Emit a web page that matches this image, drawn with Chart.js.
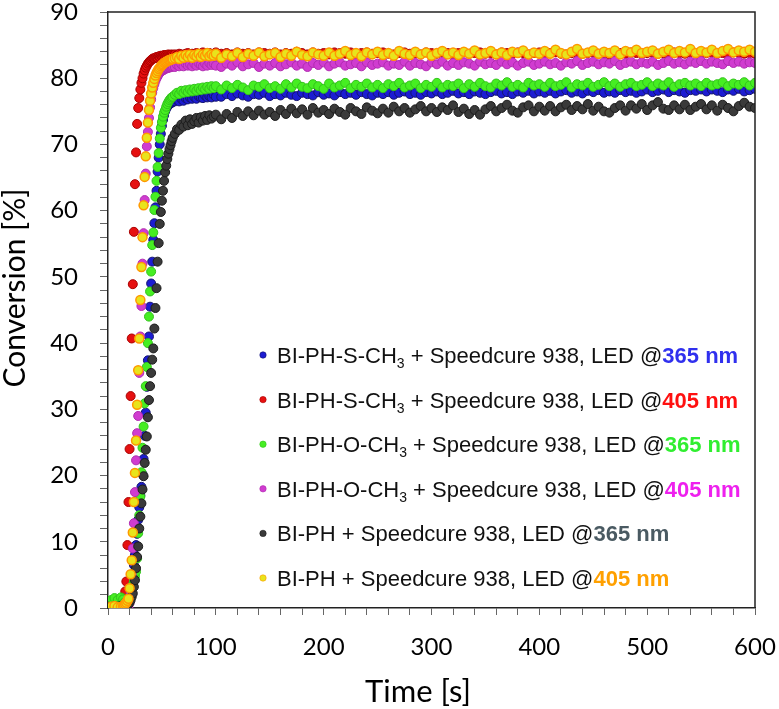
<!DOCTYPE html>
<html>
<head>
<meta charset="utf-8">
<script src="https://cdn.jsdelivr.net/npm/chart.js@4.4.0/dist/chart.umd.min.js"></script>
<style>
    html, body { margin: 0; padding: 0; background: #fff; }
    #wrap { width: 779px; height: 709px; position: relative; }
</style>
</head>
<body>
<div id="wrap"><canvas id="conversionChart"></canvas></div>
<script>
// sampling times [s]
const riseTimes = [0, 3, 6, 9, 12,
    14, 15, 16, 17, 18, 19, 20, 21, 22, 23,
    24, 25, 26, 27, 28, 29, 30, 31, 32, 33,
    34, 35, 36, 37, 38, 39, 40, 41, 42, 43,
    44, 45, 46, 47, 48, 49, 50, 51, 52, 53,
    54, 55, 56, 57, 58, 59, 60,
    62, 64, 66, 68, 70, 72, 74, 76, 78, 80, 82, 84, 86, 88, 90, 92, 94, 96, 98, 100];
const plateauTimes = [105, 110, 115, 120, 125, 130, 135, 140, 145, 150,
    155, 160, 165, 170, 175, 180, 185, 190, 195, 200,
    205, 210, 215, 220, 225, 230, 235, 240, 245, 250,
    255, 260, 265, 270, 275, 280, 285, 290, 295, 300,
    305, 310, 315, 320, 325, 330, 335, 340, 345, 350,
    355, 360, 365, 370, 375, 380, 385, 390, 395, 400,
    405, 410, 415, 420, 425, 430, 435, 440, 445, 450,
    455, 460, 465, 470, 475, 480, 485, 490, 495, 500,
    505, 510, 515, 520, 525, 530, 535, 540, 545, 550,
    555, 560, 565, 570, 575, 580, 585, 590, 595, 600];

// legend text
const compounds = ['BI-PH-S-CH3', 'BI-PH-S-CH3', 'BI-PH-O-CH3', 'BI-PH-O-CH3', 'BI-PH', 'BI-PH'];
const coInitiator = ' + Speedcure 938, LED @';
const wavelengths = ['365 nm', '405 nm', '365 nm', '405 nm', '365 nm', '405 nm'];
const xTitle = 'Time [s]';
const yTitle = 'Conversion [%]';

// conversion [%] : BI-PH-S-CH3, 365 nm
const sch3_365Rise = [0, 0.3, 0.5, 0.2, 0.4,
    0.3, 0.5, 0.6, 0.8, 1, 1.4, 2, 2.8, 3.8, 5,
    6.5, 8, 9.5, 11.2, 13.3, 15.2, 17, 18.3, 20.2, 22.5,
    26, 29.5, 33.4, 37.4, 41, 45.5, 49, 52.3, 55.6, 58.1,
    60.5, 63, 65.9, 68, 70, 71.6, 72.8, 73.7, 74.4, 75,
    75.4, 75.7, 75.9, 76.1, 76.2, 76.3, 76.4,
    76.5, 76.7, 76.5, 76.9, 76.6, 77, 76.8, 77.1, 76.9, 77.2, 76.9, 77.3, 77.1, 77, 77.4, 77.1, 77.3, 77.1, 77.5, 77.2];
const sch3_365Plateau = [77.2, 77.6, 77.3, 77.7, 77.4, 77.2, 77.6, 77.5, 77.8, 77.3,
    77.6, 77.4, 77.8, 77.5, 77.3, 77.8, 77.6, 77.4, 77.9, 77.5,
    77.7, 77.4, 77.9, 77.6, 77.8, 77.5, 77.9, 77.6, 77.4, 77.8,
    77.6, 77.9, 77.5, 77.8, 78.0, 77.6, 77.8, 77.5, 77.9, 77.7,
    78.0, 77.6, 77.8, 78.1, 77.7, 77.9, 77.6, 78.0, 77.8, 77.6,
    77.9, 78.1, 77.7, 77.9, 77.6, 78.0, 77.8, 78.1, 77.7, 78.0,
    77.8, 78.1, 77.7, 78.0, 78.2, 77.8, 78.0, 77.7, 78.1, 77.9,
    78.2, 77.8, 78.0, 77.8, 78.2, 77.9, 78.1, 77.8, 78.0, 78.3,
    77.9, 78.1, 78.3, 77.9, 78.2, 78.0, 77.8, 78.2, 78.1, 78.3,
    78.0, 78.3, 78.1, 77.9, 78.3, 78.1, 78.4, 78.0, 78.2, 78.4];

// BI-PH-S-CH3, 405 nm
const sch3_405Rise = [0, 0.3, 0.2, 0, 0.3,
    0.5, 1.2, 2.5, 4, 9.5, 16, 24, 32, 40.7, 48.9,
    56.8, 64, 68.8, 73.1, 75.5, 77, 78.3, 79.3, 80, 80.7,
    81.2, 81.6, 81.9, 82.2, 82.4, 82.6, 82.7, 82.9, 83, 83,
    83.1, 83.2, 83.1, 83.3, 83.2, 83.4, 83.3, 83.4, 83.5, 83.4,
    83.5, 83.4, 83.6, 83.5, 83.5, 83.6, 83.5,
    83.6, 83.5, 83.7, 83.6, 83.5, 83.7, 83.8, 83.6, 83.7, 83.5, 83.8, 83.6, 83.7, 83.9, 83.6, 83.7, 83.8, 83.6, 83.7, 83.9];
const sch3_405Plateau = [83.7, 83.8, 83.6, 83.9, 83.7, 83.8, 83.6, 83.9, 83.8, 83.7,
    83.9, 83.6, 83.8, 83.7, 84.0, 83.8, 83.6, 83.9, 83.7, 83.8,
    83.6, 83.9, 83.8, 83.7, 83.9, 83.6, 83.8, 83.9, 83.7, 83.8,
    83.9, 83.7, 83.6, 83.8, 83.9, 83.7, 83.8, 83.6, 83.9, 83.8,
    83.7, 83.9, 83.8, 83.6, 83.8, 83.9, 83.7, 83.8, 83.9, 83.7,
    83.8, 83.6, 83.9, 83.8, 83.7, 83.9, 83.8, 83.6, 83.8, 83.9,
    83.7, 83.8, 83.9, 83.7, 83.6, 83.8, 83.9, 83.7, 83.8, 83.9,
    83.7, 83.8, 83.6, 83.9, 83.8, 83.7, 83.9, 83.8, 83.7, 83.8,
    83.9, 83.7, 83.8, 83.6, 83.9, 83.8, 83.7, 83.9, 83.8, 83.7,
    83.8, 83.9, 83.7, 83.8, 83.6, 83.9, 83.8, 83.7, 83.8, 83.7];

// BI-PH-O-CH3, 365 nm
const och3_365Rise = [0.3, 1.2, 1.5, 1.2, 1.6,
    1.3, 0.8, 0.6, 0.8, 1, 1.2, 1.5, 2, 2.8, 3.5,
    4.2, 4.8, 5.5, 7.5, 11.3, 14, 16.8, 20.5, 24.2, 27.4,
    30.9, 33.5, 36.4, 40, 44, 47.8, 50.8, 54.8, 56.7, 60.1,
    62.1, 64.5, 66.6, 68.7, 70.9, 72.5, 73.4, 74.2, 74.8, 75.2,
    75.7, 76.1, 76.4, 76.7, 76.9, 77.1, 77.2,
    77.5, 77.8, 77.6, 78.1, 77.8, 78.2, 77.9, 78.3, 78, 78.4, 78.1, 78.5, 78.2, 78.6, 78.3, 78.7, 78.4, 78.8, 78.5, 78.8];
const och3_365Plateau = [78.3, 78.9, 78.5, 79.0, 78.6, 78.2, 78.9, 78.7, 79.1, 78.5,
    78.8, 78.4, 79.1, 78.6, 79.2, 78.7, 78.5, 79.1, 78.8, 78.4,
    79.2, 78.6, 78.9, 79.3, 78.5, 79.0, 78.7, 79.2, 78.6, 79.0,
    78.5, 79.1, 78.8, 79.3, 78.6, 78.9, 79.2, 78.5, 79.0, 78.7,
    79.3, 78.6, 79.0, 78.8, 79.2, 78.5, 79.1, 78.7, 79.3, 78.8,
    78.6, 79.2, 78.9, 79.4, 78.7, 79.0, 78.6, 79.3, 78.9, 79.1,
    78.7, 79.3, 78.8, 79.0, 79.4, 78.6, 79.1, 78.9, 79.3, 78.7,
    79.0, 79.4, 78.8, 79.2, 78.7, 79.1, 79.3, 78.8, 79.0, 79.4,
    78.8, 79.2, 78.9, 79.4, 78.7, 79.1, 79.3, 78.9, 79.2, 78.8,
    79.3, 78.9, 79.1, 79.4, 78.8, 79.2, 79.0, 79.4, 78.9, 79.3];

// BI-PH-O-CH3, 405 nm
const och3_405Rise = [0, 0, 0.1, 0, 0,
    0, 0.1, 0.2, 0.3, 0.2, 0, 0.8, 2.5, 5, 9,
    12.8, 17.5, 22.3, 26.4, 29, 35.5, 41, 45.6, 52, 56.6,
    61.6, 65.6, 69.7, 71.9, 74, 75.6, 76.8, 77.8, 78.5, 79.1,
    79.6, 80, 80.3, 80.6, 80.8, 81, 81.1, 81.2, 81.3, 81.4,
    81.5, 81.5, 81.6, 81.6, 81.7, 81.7, 81.8,
    81.7, 82, 81.8, 82.1, 81.8, 82.2, 81.9, 82.1, 81.8, 82.2, 81.9, 82.3, 82, 81.8, 82.2, 81.9, 82.3, 82, 82.2, 81.9];
const och3_405Plateau = [81.7, 82.2, 81.9, 82.4, 81.8, 82.1, 82.3, 81.7, 82.2, 81.9,
    82.3, 81.8, 82.1, 82.4, 81.9, 82.2, 81.7, 82.3, 82.0, 82.4,
    81.8, 82.2, 82.4, 81.9, 82.1, 82.3, 81.8, 82.4, 82.0, 82.2,
    82.4, 81.9, 82.2, 82.0, 82.5, 81.9, 82.3, 82.1, 81.8, 82.4,
    82.1, 82.5, 81.9, 82.3, 82.0, 82.4, 82.2, 81.9, 82.5, 82.1,
    82.3, 82.0, 82.5, 82.1, 82.4, 81.9, 82.3, 82.5, 82.0, 82.2,
    82.5, 82.1, 82.3, 81.9, 82.4, 82.2, 82.6, 82.0, 82.3, 82.5,
    82.1, 82.4, 82.2, 82.6, 82.0, 82.3, 82.5, 82.1, 82.4, 82.2,
    82.5, 82.0, 82.3, 82.6, 82.2, 82.4, 82.1, 82.5, 82.3, 82.6,
    82.2, 82.5, 82.3, 82.1, 82.6, 82.3, 82.5, 82.2, 82.4, 82.3];

// BI-PH, 365 nm
const bph_365Rise = [0.2, 0.1, 0.3, 0.2, 0.3,
    0.2, 0.2, 0.4, 0.5, 0.4, 0.6, 0.8, 1.2, 1.7, 2.2,
    3.2, 4.2, 6, 7.7, 9.3, 12, 13.8, 15.8, 17.9, 19.9,
    21.9, 23.9, 25.9, 28.8, 31.4, 33.5, 35.5, 37.5, 39.2, 42.2,
    45.3, 48.3, 52.3, 55.1, 58, 59.8, 61.5, 63, 64.5, 65.8,
    66.8, 67.8, 68.6, 69.3, 69.9, 70.5, 71,
    71.6, 72.3, 72.2, 73, 72.7, 73.6, 72.9, 73.8, 73.1, 73.5, 74, 73.3, 74.1, 73.6, 74.3, 73.7, 74.4, 73.9, 74.2, 74.5];
const bph_365Plateau = [73.8, 74.6, 74.0, 74.9, 74.3, 75.0, 74.4, 75.1, 74.5, 74.9,
    74.3, 75.2, 74.6, 75.4, 74.7, 75.3, 74.5, 75.5, 74.8, 75.2,
    74.6, 75.4, 74.9, 74.5, 75.5, 75.0, 74.6, 75.6, 75.1, 74.7,
    75.4, 74.8, 75.7, 75.0, 75.5, 74.8, 75.3, 75.8, 75.0, 75.5,
    74.9, 75.6, 75.2, 75.9, 74.9, 75.4, 74.6, 75.2, 74.5, 75.3,
    75.8, 75.0, 75.5, 76.0, 75.1, 74.8, 75.6, 75.9, 75.0, 75.7,
    75.1, 75.8, 75.0, 75.6, 76.0, 75.2, 75.8, 75.3, 76.1, 75.1,
    75.7, 75.0, 74.8, 75.5, 75.9, 75.1, 75.9, 75.4, 76.1, 75.2,
    75.9, 76.4, 75.4, 75.2, 75.9, 75.3, 76.0, 75.2, 75.7, 76.1,
    75.3, 75.9, 75.1, 76.0, 75.5, 75.0, 75.8, 76.3, 75.7, 75.5];

// BI-PH, 405 nm
const bph_405Rise = [0, 0.2, 0.3, 0.1, 0.2,
    0.3, 0.4, 0.6, 0.8, 1.1, 1.4, 3, 5.1, 7.2, 11.4,
    16, 20.4, 25.3, 30.7, 35.9, 40.7, 46.5, 51.5, 56, 60.8,
    65.1, 68.2, 71, 73.3, 75.2, 76.6, 77.7, 78.6, 79.3, 79.9,
    80.4, 80.8, 81.1, 81.4, 81.6, 81.8, 82, 82.1, 82.3, 82.4,
    82.5, 82.6, 82.7, 82.7, 82.8, 82.9, 82.9,
    83, 83.2, 82.9, 83.4, 83.1, 83.5, 83.2, 83.6, 83.1, 83.5, 83.3, 83.7, 83.2, 83.6, 83.4, 83.8, 83.3, 83.6, 83.4, 83.7];
const bph_405Plateau = [83.1, 83.6, 83.3, 83.8, 83.2, 83.7, 83.4, 83.9, 83.3, 83.6,
    83.8, 83.2, 83.7, 83.4, 84.0, 83.5, 83.3, 83.9, 83.6, 83.4,
    83.9, 83.4, 83.7, 84.1, 83.5, 83.8, 83.3, 83.9, 83.6, 84.0,
    83.5, 83.8, 83.4, 84.1, 83.7, 83.5, 84.0, 83.6, 83.9, 83.4,
    83.8, 84.1, 83.6, 83.9, 83.5, 84.0, 83.7, 84.2, 83.6, 83.8,
    84.1, 83.6, 83.9, 83.5, 84.0, 83.8, 84.2, 83.6, 83.9, 83.7,
    84.1, 83.7, 84.3, 83.8, 83.6, 84.0, 84.4, 83.7, 83.9, 84.2,
    83.7, 84.0, 83.8, 84.2, 83.6, 84.1, 83.9, 84.3, 83.8, 84.0,
    84.2, 83.7, 84.0, 84.3, 83.8, 84.1, 83.9, 84.4, 83.8, 84.1,
    83.9, 84.3, 83.8, 84.1, 84.4, 83.9, 84.2, 84.0, 84.3, 84.0];

// marker fill / edge / legend accent
const fills = ['#1c1cd2', '#e61010', '#46ee22', '#d03cd0', '#3a3a3a', '#e8e41c'];
const edges = ['#14146e', '#a80000', '#32c21c', '#b02cb0', '#1c1c1c', '#ff9800'];
const edgeWidths = [1, 1, 1, 1, 1, 1.5];
const accents = ['#3030ee', '#ff1010', '#30ee30', '#ee20ee', '#4a5a62', '#ffa000'];

const allTimes = riseTimes.concat(plateauTimes);
const seriesValues = [
    sch3_365Rise.concat(sch3_365Plateau),
    sch3_405Rise.concat(sch3_405Plateau),
    och3_365Rise.concat(och3_365Plateau),
    och3_405Rise.concat(och3_405Plateau),
    bph_365Rise.concat(bph_365Plateau),
    bph_405Rise.concat(bph_405Plateau)
];

const datasets = seriesValues.map(function (vals, i) {
    return {
        label: compounds[i] + coInitiator + wavelengths[i],
        data: vals.map(function (v, k) { return {x: allTimes[k], y: v}; }),
        backgroundColor: fills[i],
        borderColor: edges[i],
        borderWidth: edgeWidths[i],
        pointRadius: 4.5,
        pointStyle: 'circle',
        // later series sit on top, as in the original
        order: seriesValues.length - i
    };
});

/**
 * frame, axis titles, legend with coloured wavelength and subscript
 */
const legendRows = {
    id: 'legendRows',
    afterDraw(chart) {
        const ctx = chart.ctx;
        const area = chart.chartArea;
        ctx.save();
        ctx.strokeStyle = '#222';
        ctx.lineWidth = 1.5;
        ctx.beginPath();
        ctx.moveTo(area.left, area.top);
        ctx.lineTo(area.right, area.top);
        ctx.lineTo(area.right, area.bottom);
        ctx.stroke();

        // axis titles
        ctx.fillStyle = '#000';
        ctx.textBaseline = 'alphabetic';
        ctx.textAlign = 'center';
        ctx.font = '31px Lato';
        ctx.fillText(xTitle, 418, 702);
        ctx.save();
        ctx.translate(25, 288);
        ctx.rotate(-Math.PI / 2);
        ctx.font = '30px Lato';
        ctx.fillText(yTitle, 0, 0);
        ctx.restore();

        const regular = '22px "Liberation Sans", Arial, sans-serif';
        const bold = 'bold 22px "Liberation Sans", Arial, sans-serif';
        const small = '14px "Liberation Sans", Arial, sans-serif';
        ctx.textAlign = 'left';
        compounds.forEach(function (name, i) {
            const cy = 355 + i * 44.6;
            const base = cy + 8;
            ctx.beginPath();
            ctx.arc(263, cy, 3.2, 0, Math.PI * 2);
            ctx.fillStyle = fills[i];
            ctx.fill();
            ctx.lineWidth = 0.6;
            ctx.strokeStyle = edges[i];
            ctx.stroke();

            let x = 277;
            ctx.fillStyle = '#111';
            ctx.font = regular;
            let main = name, sub = '';
            if (/CH3$/.test(name)) { main = name.slice(0, -1); sub = '3'; }
            ctx.fillText(main, x, base);
            x += ctx.measureText(main).width;
            if (sub) {
                ctx.font = small;
                ctx.fillText(sub, x, base + 5);
                x += ctx.measureText(sub).width;
                ctx.font = regular;
            }
            ctx.fillText(coInitiator, x, base);
            x += ctx.measureText(coInitiator).width;
            ctx.font = bold;
            ctx.fillStyle = accents[i];
            ctx.fillText(wavelengths[i], x, base);
        });
        ctx.restore();
    }
};

const tickFont = {family: 'Lato', size: 24, lineHeight: 1};

var conversionChart = new Chart(document.getElementById('conversionChart'), {
    type: 'scatter',
    data: {datasets: datasets},
    options: {
        responsive: true,
        maintainAspectRatio: false,
        animation: false,
        devicePixelRatio: 1,
        layout: {padding: {top: 12, right: 24, left: 0, bottom: 0}},
        plugins: {
            legend: {display: false},
            tooltip: {enabled: false}
        },
        scales: {
            x: {
                type: 'linear',
                min: 0,
                max: 600,
                afterFit: function (s) {
                    s.height = 101;
                    s.paddingLeft = 0;
                    s.paddingRight = 0;
                },
                ticks: {
                    stepSize: 20,
                    autoSkip: false,
                    maxRotation: 0,
                    padding: 20,
                    color: '#000',
                    font: tickFont,
                    callback: function (v) { return v % 100 === 0 ? v : ''; }
                },
                grid: {drawOnChartArea: false, tickLength: 7, color: '#666'},
                border: {color: '#222', width: 1.5}
            },
            y: {
                min: 0,
                max: 90,
                afterFit: function (s) {
                    s.width = 108;
                    s.paddingTop = 0;
                    s.paddingBottom = 0;
                },
                ticks: {
                    stepSize: 2,
                    autoSkip: false,
                    padding: 22,
                    color: '#000',
                    font: tickFont,
                    callback: function (v) { return v % 10 === 0 ? v : ''; }
                },
                grid: {drawOnChartArea: false, tickLength: 8, color: '#666'},
                border: {color: '#222', width: 1.5}
            }
        }
    },
    plugins: [legendRows]
});
</script>
</body>
</html>
